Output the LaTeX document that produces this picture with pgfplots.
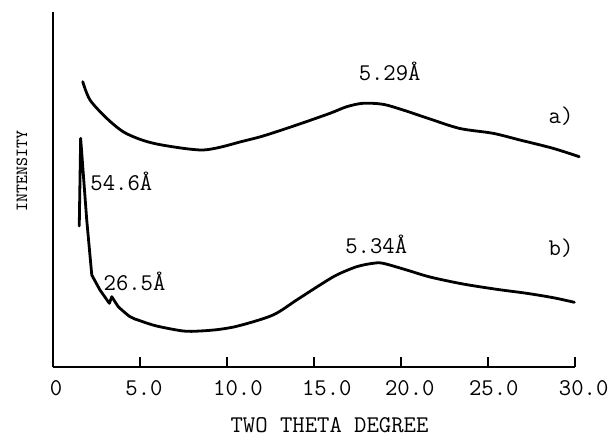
\documentclass[border=0pt]{standalone}
\usepackage{pgfplots}
\pgfplotsset{compat=1.18}
\begin{document}
\begin{tikzpicture}
\begin{axis}[
  at={(0pt,0pt)}, anchor=south west,
  scale only axis, width=260.85pt, height=177.5pt,
  xmin=0, xmax=30, ymin=0, ymax=355,
  axis x line*=bottom, axis y line*=left,
  axis line style={line width=0.9pt, -},
  xtick={0,5,10,15,20,25,30},
  xticklabels={\hspace*{3pt}0,\hspace*{4pt}5.0,\hspace*{11pt}10.0,\hspace*{13pt}15.0,\hspace*{9pt}20.0,\hspace*{6pt}25.0,\hspace*{9pt}30.0},
  ytick=\empty,
  tick align=inside, major tick length=5pt,
  tick style={line width=0.8pt, black},
  xticklabel style={font=\fontsize{12}{14}\selectfont\ttfamily, yshift=-3pt},
  clip=false,
]
% curve a
\addplot[line width=1.4pt, smooth, tension=0.5, line cap=round, line join=round] coordinates {
(1.71,285.3) (2.13,267) (3.09,248.7) (4.03,235.3) (5.00,227.7) (5.96,223)
(7.48,218.7) (8.63,217) (9.60,219.7) (10.75,225) (12.08,231) (14.01,242)
(15.93,253.7) (16.89,260.3) (17.83,263.7) (18.98,262.7) (20.13,257) (21.68,248)
(23.40,238.5) (25.30,233.7) (26.85,227) (28.75,218.7) (30.26,210.3)
};
% curve b, sharp part
\addplot[line width=1.4pt, line cap=round, line join=round] coordinates {
(1.51,141) (1.59,228.7) (1.94,147) (2.23,92) (2.70,77) (3.24,63.7) (3.38,70.3) (3.75,60.3)
};
% curve b, smooth part
\addplot[line width=1.4pt, smooth, tension=0.5, line cap=round, line join=round] coordinates {
(3.75,60.3) (4.43,50.3) (5.00,46.3) (5.96,41) (7.49,36) (8.45,36) (9.60,37.7)
(10.75,41.5) (12.65,52) (14.01,67) (15.35,82) (16.31,92) (17.46,100.3)
(18.40,103.7) (18.98,103.7) (20.34,97) (21.68,90) (23.58,83)
(25.51,77.7) (27.24,73.7) (28.77,69.3) (29.98,64.7)
};
\node[anchor=base west, inner sep=0pt, font=\fontsize{12}{14}\selectfont\ttfamily] at (axis cs:17.56,286.3) {5.29Å};
\node[anchor=base west, inner sep=0pt, font=\fontsize{12}{14}\selectfont\ttfamily] at (axis cs:28.48,243.7) {a)};
\node[anchor=base west, inner sep=0pt, font=\fontsize{12}{14}\selectfont\ttfamily] at (axis cs:2.13,177) {54.6Å};
\node[anchor=base west, inner sep=0pt, font=\fontsize{12}{14}\selectfont\ttfamily] at (axis cs:2.89,76.3) {26.5Å};
\node[anchor=base west, inner sep=0pt, font=\fontsize{12}{14}\selectfont\ttfamily] at (axis cs:16.79,113.7) {5.34Å};
\node[anchor=base west, inner sep=0pt, font=\fontsize{12}{14}\selectfont\ttfamily] at (axis cs:28.48,112) {b)};
\node[anchor=center, inner sep=0pt, font=\fontsize{12}{14}\selectfont\ttfamily] at (axis cs:15.9,-58) {TWO THETA DEGREE};
\node[anchor=center, rotate=90, inner sep=0pt, font=\fontsize{8.5}{10}\selectfont\ttfamily] at (axis cs:-1.78,196) {INTENSITY};
\end{axis}
\pgfresetboundingbox
\useasboundingbox (-26.5pt,-36.5pt) rectangle (280pt,183.5pt);
\end{tikzpicture}
\end{document}
